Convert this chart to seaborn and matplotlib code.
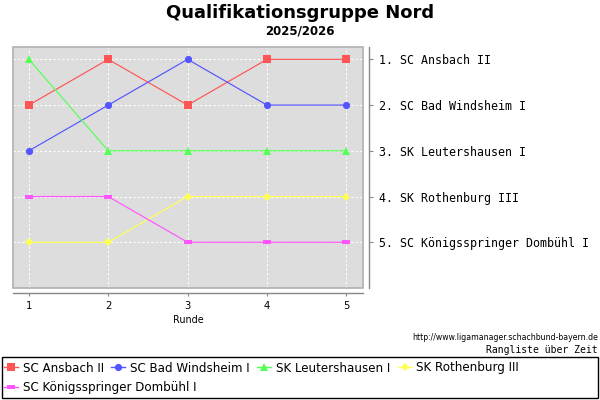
import matplotlib
matplotlib.use("Agg")
import matplotlib.pyplot as plt
from matplotlib.patches import Rectangle
import seaborn as sns
import pandas as pd

# ---- data ----
title = "Qualifikationsgruppe Nord"
subtitle = "2025/2026"
rounds = [1, 2, 3, 4, 5]
teams = ["SC Ansbach II", "SC Bad Windsheim I", "SK Leutershausen I",
         "SK Rothenburg III", "SC Königsspringer Dombühl I"]
rank_ansbach = [2, 1, 2, 1, 1]
rank_windsheim = [3, 2, 1, 2, 2]
rank_leutershausen = [1, 3, 3, 3, 3]
rank_rothenburg = [5, 5, 4, 4, 4]
rank_dombuehl = [4, 4, 5, 5, 5]
x_label = "Runde"
source_text = "http://www.ligamanager.schachbund-bayern.de"
caption_text = "Rangliste über Zeit"

series = [rank_ansbach, rank_windsheim, rank_leutershausen, rank_rothenburg, rank_dombuehl]
rows = []
for team, ranks in zip(teams, series):
    for r, v in zip(rounds, ranks):
        rows.append({"Runde": r, "Rang": v, "Team": team})
df = pd.DataFrame(rows)

colors = ["#FF5555", "#5555FF", "#55FF55", "#FFFF55", "#FF55FF"]
rect_marker = [(-1, -0.55), (1, -0.55), (1, 0.55), (-1, 0.55), (-1, -0.55)]
marker_list = ["s", "o", "^", "D", rect_marker]
palette = dict(zip(teams, colors))
markers = dict(zip(teams, marker_list))

fig = plt.figure(figsize=(6, 4), dpi=100)
W, H = 600, 400
ax = fig.add_axes([13 / W, 1 - 288 / H, 350 / W, 241 / H])
ax.set_facecolor("#DDDDDD")

sns.lineplot(data=df, x="Runde", y="Rang", hue="Team", style="Team",
             palette=palette, markers=markers, dashes=False,
             linewidth=0.85, markersize=5.2, markeredgewidth=0, ax=ax, zorder=3)

handles, labels = ax.get_legend_handles_labels()
if ax.get_legend() is not None:
    ax.get_legend().remove()

# shrink diamond a bit
for ln in ax.lines:
    if ln.get_marker() == "D":
        ln.set_markersize(4.3)

ax.set_xlim(0.8, 5.21)
ax.set_ylim(6.0, 0.73)
ax.yaxis.tick_right()
ax.set_xticks(rounds)
ax.set_xticklabels([str(r) for r in rounds])

# right axis labels: final ranking
final = sorted(zip([s[-1] for s in series], teams))
ax.set_yticks([p for p, _ in final])
ax.set_yticklabels([f"{p}. {t}" for p, t in final])

ax.grid(True, color="white", linestyle=(0, (2, 2)), linewidth=0.8, zorder=1)
ax.set_axisbelow(True)

for s in ["top", "left"]:
    ax.spines[s].set_visible(False)
ax.spines["bottom"].set_position(("outward", 3.6))
ax.spines["right"].set_position(("outward", 4.3))
for s in ["bottom", "right"]:
    ax.spines[s].set_color("#888888")
    ax.spines[s].set_linewidth(1.0)
ax.tick_params(axis="x", length=2.5, width=0.8, color="#888888", pad=3,
               labelsize=7.2, labelcolor="black")
ax.tick_params(axis="y", length=3, width=0.8, color="#888888", pad=4.5,
               labelsize=8.4, labelfontfamily="DejaVu Sans Mono", labelcolor="black")

ax.add_patch(Rectangle((0, 0), 1, 1, transform=ax.transAxes, fill=False,
                       edgecolor="#B0B0B0", linewidth=1.2, clip_on=False, zorder=5))

ax.set_xlabel(x_label, fontsize=6.9, labelpad=3)
ax.set_ylabel("")

fig.text(0.5, 1 - 18.5 / H, title, ha="center", va="baseline",
         fontsize=13, fontweight="bold")
fig.text(0.5, 1 - 35 / H, subtitle, ha="center", va="baseline",
         fontsize=8.5, fontweight="bold")
fig.text(598 / W, 1 - 338 / H, source_text, ha="right", va="center", fontsize=5.6)
fig.text(598 / W, 1 - 350 / H, caption_text, ha="right", va="center",
         fontfamily="DejaVu Sans Mono", fontsize=7)

# legend frame
fig.patches.append(Rectangle((2 / W, 1 - 398 / H), 596 / W, 41 / H,
                             transform=fig.transFigure, fill=False,
                             edgecolor="black", linewidth=1.0))
for h in handles:
    h.set_linewidth(1.0)
    h.set_markersize(4.3 if h.get_marker() == "D" else 5.2)
    h.set_markeredgewidth(0)

leg_kw = dict(frameon=False, fontsize=8.6, handlelength=1.15,
              handletextpad=0.4, columnspacing=0.65, borderpad=0,
              borderaxespad=0, loc="center left")
leg1 = fig.legend(handles[:4], labels[:4], ncol=4,
                  bbox_to_anchor=(4 / W, 1 - 368 / H), **leg_kw)
leg2 = fig.legend(handles[4:], labels[4:], ncol=1,
                  bbox_to_anchor=(4 / W, 1 - 387.5 / H), **leg_kw)

fig.savefig("out.png", dpi=100)
